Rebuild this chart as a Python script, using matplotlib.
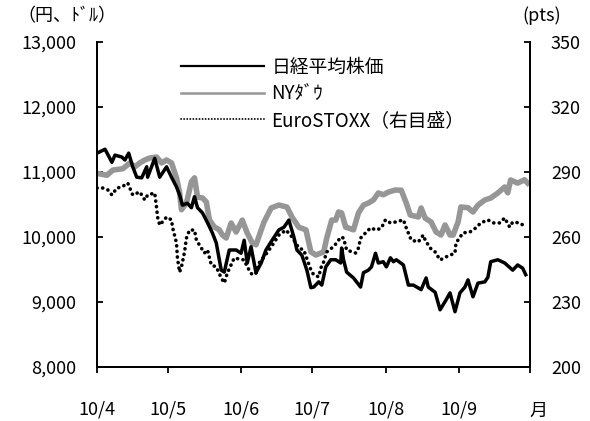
import matplotlib
matplotlib.use("Agg")
import matplotlib.pyplot as plt
from matplotlib.lines import Line2D

plt.rcParams['font.family'] = ['Noto Sans CJK JP', 'DejaVu Sans']

# days since 2010-04-01
nk_day = [0, 3.4, 6.3, 7.6, 10.5, 11.8, 13.4, 15.1, 16.8, 18.9, 21.0, 21.4, 24.4, 26.5, 29.4,
          31.5, 33.6, 34.9, 36.1, 38.2, 39.9, 41.2, 42.5, 44.6, 46.7, 48.8, 50.4, 52.5, 53.8, 55.9,
          58.8, 60.9, 62.2, 63.5, 65.1, 67.2, 69.4, 71.4, 74.0, 76.9, 79.0, 81.1, 83.2, 84.5, 86.6,
          88.7, 90.4, 91.6, 93.7, 95.0, 96.7, 98.8, 100.9, 103.0, 103.4, 104.2, 105.5, 108.4, 111.4, 112.6,
          114.7, 116.0, 117.7, 118.9, 121.0, 122.3, 124.0, 125.3, 126.5, 129.5, 131.6, 133.7, 137.0, 139.1, 140.0,
          142.9, 145.0, 147.5, 149.2, 151.3, 153.4, 155.5, 156.8, 158.9, 161.0, 163.9, 165.2, 166.4, 169.4, 172.3,
          175.7, 177.8, 179.9, 181.2]
nikkei = [11290, 11350, 11150, 11260, 11230, 11185, 11290, 11080, 10920, 10910, 11080, 10920, 11210, 10920, 11080,
          10920, 10770, 10650, 10490, 10520, 10450, 10620, 10450, 10370, 10220, 10060, 9910, 9490, 9460, 9800,
          9800, 9750, 9950, 9600, 9850, 9450, 9600, 9800, 9950, 10110, 10150, 10260, 10000, 9800, 9720,
          9490, 9220, 9230, 9310, 9260, 9540, 9650, 9650, 9600, 9830, 9650, 9460, 9370, 9230, 9450,
          9490, 9540, 9750, 9600, 9620, 9540, 9680, 9620, 9650, 9570, 9260, 9260, 9190, 9370, 9230,
          9150, 8880, 9030, 9140, 8850, 9140, 9230, 9340, 9080, 9290, 9310, 9380, 9620, 9650, 9600,
          9490, 9570, 9520, 9420]

dow_day = [0, 4.2, 6.7, 10.9, 13.9, 16.0, 18.1, 20.2, 22.3, 25.2, 27.3, 29.4, 31.5, 33.6, 34.9,
           35.7, 37.8, 39.9, 41.2, 42.5, 44.6, 46.2, 47.5, 49.6, 51.7, 53.0, 54.6, 56.7, 58.8, 61.4,
           63.5, 65.6, 67.2, 69.4, 70.6, 73.6, 76.9, 80.3, 82.4, 85.3, 88.3, 90.4, 92.5, 95.8, 97.1,
           99.2, 100.9, 102.1, 103.4, 105.1, 106.3, 108.4, 110.5, 112.6, 114.7, 116.8, 118.9, 121.0, 123.2, 126.1,
           128.6, 130.7, 132.4, 135.8, 137.0, 138.7, 141.2, 143.3, 145.4, 147.1, 149.2, 150.5, 152.6, 153.8, 156.8,
           158.9, 161.0, 163.9, 166.4, 169.4, 172.3, 173.6, 174.8, 177.8, 180.7, 182]
dow = [10980, 10950, 11030, 11050, 11140, 11080, 11140, 11185, 11215, 11230, 11140, 11185, 11140, 10910, 10690,
       10420, 10523, 10850, 10910, 10615, 10600, 10540, 10262, 10154, 10110, 10030, 9985, 10215, 10077, 10260,
       10060, 9910, 9880, 10110, 10231, 10446, 10492, 10460, 10308, 10150, 10110, 9770, 9723, 9770, 9985,
       10260, 10260, 10385, 10370, 10150, 10138, 10110, 10370, 10490, 10523, 10569, 10677, 10650, 10692, 10723,
       10720, 10523, 10338, 10308, 10446, 10290, 10231, 10077, 10031, 10185, 10030, 10030, 10230, 10462, 10450,
       10385, 10490, 10569, 10600, 10677, 10769, 10680, 10877, 10830, 10880, 10830]

eu_day = [0, 2.5, 4.6, 6.3, 8.4, 10.5, 13.0, 15.1, 18.1, 20.2, 21.4, 24.4, 25.2, 25.6, 26.5,
          29.4, 31.5, 31.9, 33.6, 34.0, 34.9, 35.7, 37.0, 37.8, 39.1, 41.2, 42.0, 44.1, 45.4, 46.7,
          48.3, 50.4, 52.5, 53.8, 55.1, 58.0, 62.2, 63.5, 65.6, 67.2, 68.5, 70.6, 73.6, 76.9, 79.9,
          82.4, 85.3, 87.4, 90.4, 91.6, 93.7, 94.6, 95.8, 97.1, 99.2, 101.3, 103.0, 104.2, 105.5, 109.3,
          110.5, 111.4, 113.5, 115.6, 118.1, 120.2, 121.9, 124.0, 126.1, 129.5, 130.7, 132.8, 135.8, 137.9, 138.7,
          140.8, 142.9, 145.0, 147.5, 151.3, 151.7, 154.7, 157.6, 160.1, 162.2, 165.2, 167.3, 170.2, 172.3, 174.4,
          175.7, 178.6, 179.9]
eurostoxx = [282.6, 282.6, 281.7, 279.4, 282.6, 283.1, 284.9, 279.4, 280.8, 277.1, 279.4, 280.3, 273.4, 269.2, 265.5,
             269.2, 267.9, 264.6, 257.2, 250.3, 243.8, 246.2, 253.1, 259.5, 263.2, 263.2, 258.6, 254.9, 252.6, 254.0,
             247.1, 246.2, 241.1, 238.8, 243.4, 250.3, 249.4, 246.2, 242.5, 243.4, 248.0, 250.8, 255.4, 260.9, 263.2,
             260.0, 254.9, 254.0, 244.8, 242.5, 241.6, 245.7, 248.5, 253.1, 254.9, 257.2, 260.0, 259.5, 254.0, 252.6,
             254.9, 259.5, 261.9, 264.2, 263.2, 264.2, 267.9, 266.5, 266.9, 267.9, 264.2, 258.6, 257.7, 260.9, 258.6,
             254.9, 253.1, 249.4, 250.8, 252.6, 257.2, 261.9, 262.3, 264.2, 266.5, 267.9, 266.5, 266.5, 268.8, 264.6,
             266.9, 266.5, 265.6]

month_pos = [0, 30, 61, 91, 122, 153, 183]
month_lab = ['10/4', '10/5', '10/6', '10/7', '10/8', '10/9', '']
labels = ['日経平均株価', 'NYﾀﾞｳ', 'EuroSTOXX（右目盛）']

fig = plt.figure(figsize=(5.9, 4.21), dpi=100)
ax = fig.add_axes([0.1644, 0.1283, 0.7339, 0.7719])
ax2 = ax.twinx()

ax.plot(dow_day, dow, color='#969696', lw=4.0)
ax.plot(nk_day, nikkei, color='black', lw=2.5)
ax2.plot(eu_day, eurostoxx, color='black', lw=2.6, linestyle=(0, (0.05, 1.5)),
         dash_capstyle='round')

ax.set_xlim(0, 183)
ax.set_ylim(8000, 13000)
ax2.set_ylim(200, 350)
ax.set_yticks(range(8000, 13001, 1000))
ax.set_yticklabels([f'{v:,}' for v in range(8000, 13001, 1000)])
ax2.set_yticks(range(200, 351, 30))
ax.set_xticks(month_pos)
ax.set_xticklabels(month_lab)

for a in (ax, ax2):
    a.spines['top'].set_visible(False)
    for s in a.spines.values():
        s.set_linewidth(1.3)
ax.tick_params(axis='y', direction='in', length=4, width=1.3, pad=15, labelsize=13)
ax2.tick_params(axis='y', direction='in', length=4, width=1.3, pad=15, labelsize=13)
ax.tick_params(axis='x', direction='out', length=4, width=1.3, pad=20, labelsize=13)

fig.text(0.03, 0.962, '（円、ﾄﾞﾙ）', fontsize=13, va='center', ha='left')
fig.text(0.885, 0.962, '(pts)', fontsize=13, va='center', ha='left')
fig.text(0.912, 0.025, '月', fontsize=13, va='center', ha='center')

handles = [Line2D([], [], color='black', lw=1.6),
           Line2D([], [], color='#969696', lw=1.8),
           Line2D([], [], color='black', lw=1.3, linestyle=(0, (0.1, 1.6)), dash_capstyle='round')]
ax.legend(handles, labels, loc='upper left', bbox_to_anchor=(0.195, 0.955), frameon=False,
          fontsize=13.5, handlelength=4.4, handletextpad=0.4, labelspacing=0.3,
          borderpad=0, borderaxespad=0)

plt.savefig('out.png', dpi=100)
